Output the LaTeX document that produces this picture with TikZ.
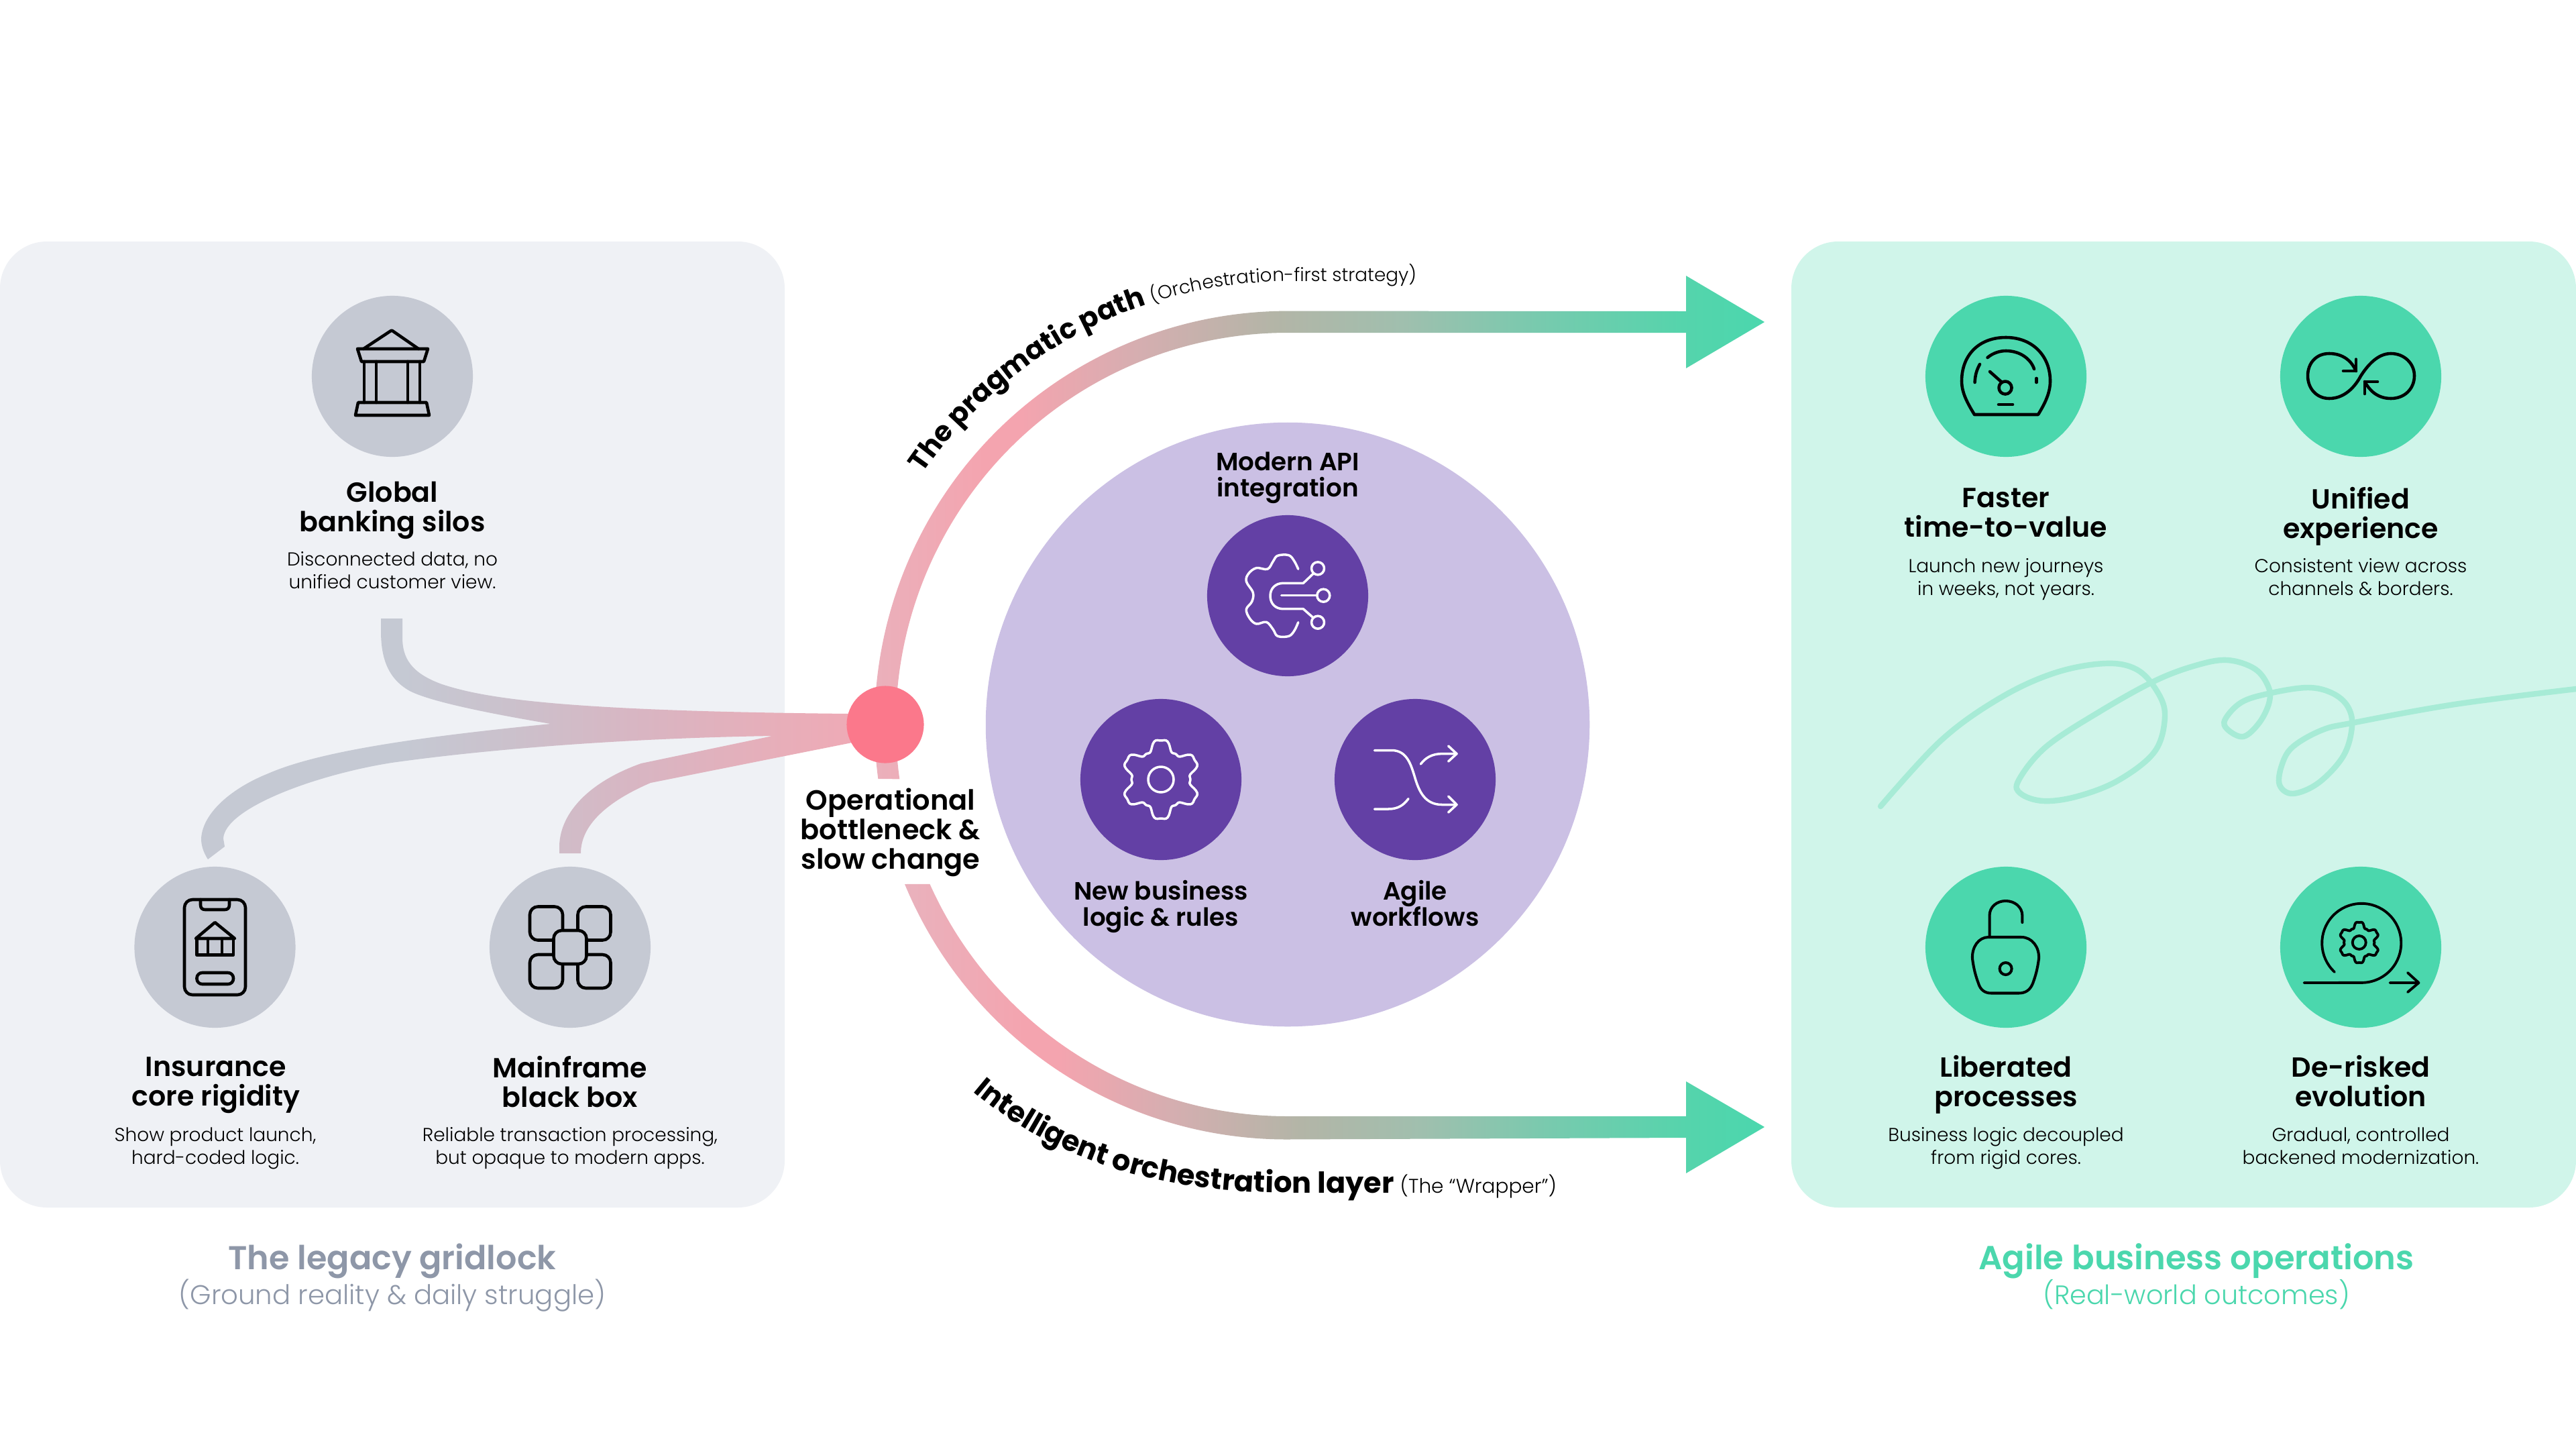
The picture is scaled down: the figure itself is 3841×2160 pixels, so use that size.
\documentclass[tikz,border=0pt]{standalone}
\usepackage{fontspec}
\usetikzlibrary{decorations.text,shadings}
\setmainfont{Poppins}
\newfontfamily\hfont{Poppins SemiBold}
\newfontfamily\bfontx{Poppins Bold}
\newfontfamily\lfont{Poppins Light}
\definecolor{panelL}{HTML}{EFF1F5}
\definecolor{panelR}{HTML}{D0F5EA}
\definecolor{grayC}{HTML}{C5C9D3}
\definecolor{greenC}{HTML}{4BD7AD}
\definecolor{lilac}{HTML}{CBC0E4}
\definecolor{violet}{HTML}{6340A5}
\definecolor{hubC}{HTML}{FB788B}
\definecolor{pinkA}{HTML}{F4A4AF}
\definecolor{pinkB}{HTML}{E9B2BD}
\definecolor{flowEnd}{HTML}{F0A9B5}
\definecolor{swirl}{HTML}{A7EBD6}
\definecolor{titleG}{HTML}{8E97A8}
\definecolor{fa}{HTML}{CBC1CC}
\definecolor{fb}{HTML}{D9B5C2}
\definecolor{fc}{HTML}{E8AEB9}
\definecolor{aa}{HTML}{D5AEB0}
\definecolor{ab}{HTML}{B3B5A7}
\definecolor{ac}{HTML}{A0BFAE}
\definecolor{ad}{HTML}{78CAAE}
\definecolor{ae}{HTML}{55D4AC}
\pgfdeclarehorizontalshading{flowshade}{100bp}{color(0bp)=(grayC); color(40bp)=(grayC); color(48bp)=(fa); color(58bp)=(fb); color(68.5bp)=(fc); color(75bp)=(flowEnd); color(100bp)=(flowEnd)}
\pgfdeclarehorizontalshading{arrowshade}{100bp}{color(0bp)=(pinkB); color(25bp)=(pinkB); color(32bp)=(pinkA); color(34bp)=(pinkA); color(40.5bp)=(aa); color(48bp)=(ab); color(55bp)=(ac); color(62.5bp)=(ad); color(70.5bp)=(ae); color(75bp)=(greenC); color(100bp)=(greenC)}
\newcommand{\headfont}{\hfont\fontsize{11.7}{12.6}\selectfont}
\newcommand{\descfont}{\lfont\fontsize{7.95}{9.7}\selectfont}
\tikzset{
  x=0.01cm,y=-0.01cm,
  heading/.style={align=center,inner sep=0pt,font=\headfont,text=black,execute at begin node=\strut,execute at end node=\strut},
  desc/.style={align=center,inner sep=0pt,font=\descfont,text=black,execute at begin node=\strut,execute at end node=\strut},
  dot/.style={circle,minimum size=2.4cm,inner sep=0pt,fill=#1},
  ink/.style={draw=black,line width=1.3pt,line join=round,line cap=round},
  inkw/.style={draw=white,line width=1pt,line join=round,line cap=round},
  midlabel/.style={align=center,inner sep=0pt,text=black,execute at begin node=\strut,execute at end node=\strut},
}
\newcommand{\gearshape}[4]{% x y R style
  \draw[#4] plot[domain=0:360,samples=145,smooth cycle,variable=\t]
   ({#1+#3*(.85+.15*(cos(6*(\t-90))-.22*cos(18*(\t-90))))*cos(\t)},{#2-#3*(.85+.15*(cos(6*(\t-90))-.22*cos(18*(\t-90))))*sin(\t)});
}
\begin{document}
\begin{tikzpicture}
\useasboundingbox[fill=white] (0,0) rectangle (3841,2160);
% panels
\fill[panelL,rounded corners=0.7cm] (0,360) rectangle (1170,1800);
\fill[panelR,rounded corners=0.7cm] (2671,360) rectangle (3841,1800);
% swirl
\draw[swirl,line width=2.4pt,line cap=round] plot[smooth,tension=.6] coordinates {(2804,1202)(2895,1103)(2983,1040)(3064,1003)(3139,989)(3186,998)(3216,1030)(3228,1067)(3213,1120)(3159,1163)(3098,1187)(3047,1194)(3013,1183)(3010,1163)(3051,1113)(3132,1060)(3213,1015)(3274,992)(3321,984)(3362,997)(3382,1023)(3383.5,1047)(3369,1077)(3345,1098)(3321,1087)(3318,1072)(3342,1047)(3382,1034)(3440,1025)(3477,1033)(3500.5,1053)(3507,1083)(3494,1127)(3457,1167)(3419,1183)(3399,1170)(3402.5,1140)(3419,1113)(3463,1088)(3511,1077)(3660,1050)(3841,1027)};
% purple disc
\node[circle,minimum size=9cm,inner sep=0pt,fill=lilac] (core) at (1920,1080) {};
% left flows
\shade[shading=flowshade] (568,922) -- (600,922) -- (600,950)
  .. controls (600,980) and (612,1003) .. (659,1020)
  .. controls (720,1040) and (830,1060) .. (1267,1064)
  -- (1300,1064) -- (1300,1100) -- (1270.5,1107) -- (970,1167)
  .. controls (905,1195) and (866,1230) .. (866,1272)
  -- (834,1272) -- (834,1260)
  .. controls (836,1210) and (880,1165) .. (956,1138)
  -- (1152,1097)
  .. controls (950,1100) and (740,1115) .. (584,1137)
  .. controls (470,1155) and (335,1205) .. (333,1250)
  -- (335,1262) -- (310,1281)
  .. controls (303,1270) and (300,1260) .. (300,1250)
  .. controls (302,1212) and (345,1175) .. (400,1153)
  .. controls (480,1118) and (640,1097) .. (821,1079)
  .. controls (720,1062) and (640,1045) .. (611,1030)
  .. controls (575,1010) and (568,975) .. (568,940) -- cycle;
% arrows
\shade[shading=arrowshade] (1309.35,1161) arc[start angle=187.556,end angle=90,radius=6.16cm]
  -- (2514,464) -- (2514,411) -- (2631,480) -- (2514,549) -- (2514,496) -- (1920,496)
  arc[start angle=90,end angle=187.97,radius=5.84cm] -- cycle;
\shade[shading=arrowshade] (1349,1318) arc[start angle=202.5,end angle=270,radius=6.16cm]
  -- (2514,1696) -- (2514,1749) -- (2631,1680) -- (2514,1612) -- (2514,1664) -- (1920,1664)
  arc[start angle=270,end angle=204.05,radius=5.84cm] -- cycle;
% hub
\node[circle,minimum size=1.15cm,inner sep=0pt,fill=hubC] (hub) at (1320,1080) {};
% curved labels
\path[decorate,decoration={text along path,text align=left,
  text={|\bfontx\fontsize{11.8}{14}\selectfont|The pragmatic path |\lfont\fontsize{7.9}{9}\selectfont|(Orchestration-first strategy)}}]
  (1376,706) arc[start angle=145.5,end angle=90,radius=6.6cm] -- (2400,420);
\path[decorate,decoration={text along path,text align=left,
  text={|\bfontx\fontsize{12.25}{14}\selectfont|Intelligent orchestration layer |\lfont\fontsize{8.4}{9}\selectfont|(The “Wrapper”)}}]
  (1451,1627) .. controls (1590,1745) and (1760,1778) .. (1920,1778) -- (2400,1778);
% circles
\node[dot=grayC] (cGlobal) at (585,561) {};
\node[dot=grayC] (cIns) at (320.5,1412) {};
\node[dot=grayC] (cMain) at (850,1412) {};
\node[dot=greenC] (cFast) at (2991,561) {};
\node[dot=greenC] (cUni) at (3520,561) {};
\node[dot=greenC] (cLib) at (2991,1412) {};
\node[dot=greenC] (cDe) at (3520,1412) {};
\node[dot=violet] (cApi) at (1920,888) {};
\node[dot=violet] (cBiz) at (1731,1162) {};
\node[dot=violet] (cAgi) at (2110,1162) {};
% bank
\draw[ink] (542,520) -- (583,493) -- (585,493) -- (624,520);
\draw[ink] (533,520) -- (638,520) -- (632,539) -- (539,539) -- cycle;
\draw[ink] (543,539) -- (543,600) (561,539) -- (561,600) (608,539) -- (608,600) (626,539) -- (626,600);
\draw[ink] (534,600) -- (636,600) -- (640,619) -- (530,619) -- cycle;
% phone
\draw[ink,rounded corners=0.12cm] (275,1341) rectangle (366,1483);
\draw[ink] (299,1341) -- (299,1349) .. controls (299,1354) and (302,1356) .. (306,1356) -- (335,1356) .. controls (339,1356) and (342,1354) .. (342,1349) -- (342,1341);
\draw[ink] (292,1399) -- (320.5,1375) -- (350,1399) -- cycle;
\draw[ink] (293.5,1399) rectangle (348,1423.5);
\draw[ink] (310,1399) -- (310,1423.5) (331,1399) -- (331,1423.5);
\draw[ink,rounded corners=0.08cm] (293.5,1450) rectangle (348,1467);
% mainframe
\foreach \a/\b in {790/1351.5,861.5/1351.5,790/1423,861.5/1423}
  \draw[ink,rounded corners=0.12cm] (\a,\b) rectangle ++(49,50);
\filldraw[ink,fill=grayC,rounded corners=0.12cm] (825.5,1387) rectangle (874.5,1437);
% gauge
\draw[ink] (2944,618) -- (3039,618) .. controls (3050,600) and (3057,585) .. (3057,568)
  .. controls (3057,530) and (3030,503) .. (2991,503) .. controls (2950,503) and (2925,530) .. (2925,568)
  .. controls (2925,585) and (2933,600) .. (2944,618);
\draw[ink] (2963.5,533) .. controls (2972,526) and (2982,523) .. (2991,523) .. controls (3012,523) and (3028,535) .. (3033,550);
\draw[ink] (2952,543) .. controls (2947,552) and (2945,560) .. (2944.6,570);
\draw[ink] (3036.5,564) -- (3036.5,570);
\draw[ink] (2967,554) -- (2985,570);
\draw[ink] (2990,578) circle[radius=0.095cm];
\draw[ink] (2980,603) -- (3001,603);
% infinity
\draw[ink] (3513,553) .. controls (3505,535) and (3490,527) .. (3473,527)
  .. controls (3453,527) and (3441,542) .. (3441,560)
  .. controls (3441,580) and (3455,594) .. (3473,594)
  .. controls (3500,594) and (3515,570) .. (3520,560.5)
  .. controls (3530,545) and (3545,527) .. (3565,527)
  .. controls (3585,527) and (3600,542) .. (3600,560)
  .. controls (3600,580) and (3585,594) .. (3565,594)
  .. controls (3545,594) and (3533,582) .. (3526,569);
\draw[ink] (3494,553) -- (3513,553) -- (3513,535.6);
\draw[ink] (3545,569) -- (3526,569) -- (3526,587);
% lock
\draw[ink,line width=1.15pt] (2966.5,1397) -- (2966.5,1365) .. controls (2966.5,1352) and (2977,1343) .. (2990.6,1343)
  .. controls (3004,1343) and (3015.4,1352) .. (3015.4,1365) -- (3015.4,1375);
\draw[ink,line width=1.15pt] (2965,1397) -- (3014,1397) .. controls (3030,1397) and (3041,1412) .. (3040,1429)
  .. controls (3038,1445) and (3035,1455) .. (3031,1466) .. controls (3027,1476) and (3020,1480.5) .. (3010,1480.5)
  -- (2969,1480.5) .. controls (2960,1480.5) and (2953,1476) .. (2950,1466)
  .. controls (2946,1455) and (2943,1445) .. (2941,1429) .. controls (2940,1412) and (2950,1397) .. (2965,1397) -- cycle;
\draw[ink,line width=1.15pt] (2990.6,1444) circle[radius=0.09cm];
% de-risk
\draw[ink,line width=1.1pt] (3481,1449) arc[start angle=227,end angle=-90,radius=0.59cm] -- (3435.6,1465);
\draw[ink,line width=1.1pt] (3563.6,1465) -- (3606.5,1465) (3590,1450) -- (3606.5,1465) -- (3590,1479);
\gearshape{3517.7}{1405}{31}{ink,line width=1.1pt}
\draw[ink,line width=1.1pt] (3517.7,1405) circle[radius=0.1cm];
% API icon
\draw[inkw] plot[smooth,tension=.6] coordinates {(1935.7,848.3)(1930,836.7)(1921.7,827.7)(1905,828.3)(1898.3,836.7)(1890,848.3)(1873.3,846.7)(1861.7,855)(1858.3,866.7)(1868.3,883.3)(1866.7,896.7)(1858.3,908.3)(1863.3,921.7)(1873.3,930)(1888.3,927.3)(1898.3,938.3)(1905,948.3)(1921.7,948.3)(1930,940)(1935.7,927.7)};
\draw[inkw] (1958.3,855) -- (1943.3,869.3) -- (1913.3,869.3) .. controls (1902,869.3) and (1894,877) .. (1894,888.3) .. controls (1894,900) and (1902,907.7) .. (1913.3,907.7) -- (1943.3,907.7) -- (1958.3,921);
\draw[inkw] (1910.7,887.7) -- (1963.3,887.7);
\draw[inkw] (1965,847.3) circle[radius=0.095cm] (1973.3,887.7) circle[radius=0.095cm] (1965,927.7) circle[radius=0.095cm];
% gear
\gearshape{1731}{1162}{60}{inkw}
\draw[inkw] (1731,1162) circle[radius=0.19cm];
% shuffle
\draw[inkw] (2049.5,1118.5) -- (2075,1118.5) .. controls (2098,1118.5) and (2104,1140) .. (2110,1160) .. controls (2116,1180) and (2125,1199.5) .. (2150,1199.5) -- (2172,1199.5);
\draw[inkw] (2159.6,1187) -- (2172,1199.5) -- (2159.6,1211);
\draw[inkw] (2049.5,1206) -- (2070,1206) .. controls (2085,1206) and (2093,1200) .. (2100,1190.6);
\draw[inkw] (2118.4,1139) .. controls (2125,1130) and (2135,1123.6) .. (2150,1123.6) -- (2172,1123.6);
\draw[inkw] (2159.6,1112) -- (2172,1123.6) -- (2159.6,1135);
% texts
\node[heading] (tGlobal) at (585,762) {Global\\banking silos};
\node[desc] (dGlobal) at (585,855) {Disconnected data, no\\unified customer view.};
\node[heading] (tIns) at (322,1619) {Insurance\\core rigidity};
\node[desc] (dIns) at (321,1713) {Show product launch,\\hard-coded logic.};
\node[heading] (tMain) at (850,1619) {Mainframe\\black box};
\node[desc] (dMain) at (850,1713) {Reliable transaction processing,\\but opaque to modern apps.};
\node[heading] (tFast) at (2991,771) {Faster\\time-to-value};
\node[desc] (dFast) at (2991,865) {Launch new journeys\\in weeks, not years.};
\node[heading] (tUni) at (3520,771) {Unified\\experience};
\node[desc] (dUni) at (3520,865) {Consistent view across\\channels \& borders.};
\node[heading] (tLib) at (2991,1618) {Liberated\\processes};
\node[desc] (dLib) at (2991,1713) {Business logic decoupled\\from rigid cores.};
\node[heading] (tDe) at (3520,1618) {De-risked\\evolution};
\node[desc] (dDe) at (3520,1713) {Gradual, controlled\\backened modernization.};
\node[midlabel,font=\hfont\fontsize{10.6}{11.2}\selectfont] (tApi) at (1920,713) {Modern API\\integration};
\node[midlabel,font=\hfont\fontsize{10.6}{11.2}\selectfont] (tBiz) at (1731,1352) {New business\\logic \& rules};
\node[midlabel,font=\hfont\fontsize{10.6}{11.2}\selectfont] (tAgi) at (2110,1352) {Agile\\workflows};
\node[midlabel,font=\hfont\fontsize{11.8}{12.6}\selectfont] (tHub) at (1328,1242) {Operational\\bottleneck \&\\slow change};
\node[inner sep=0pt,text=titleG,font=\hfont\fontsize{14}{15}\selectfont,anchor=base] (gL) at (585,1892) {The legacy gridlock};
\node[inner sep=0pt,text=titleG,font=\lfont\fontsize{11.45}{12}\selectfont,anchor=base] (sL) at (585,1944) {(Ground reality \& daily struggle)};
\node[inner sep=0pt,text=greenC,font=\hfont\fontsize{14.1}{15}\selectfont,anchor=base] (gR) at (3275,1892) {Agile business operations};
\node[inner sep=0pt,text=greenC,font=\lfont\fontsize{11.3}{12}\selectfont,anchor=base] (sR) at (3275,1944) {(Real-world outcomes)};
\end{tikzpicture}
\end{document}
